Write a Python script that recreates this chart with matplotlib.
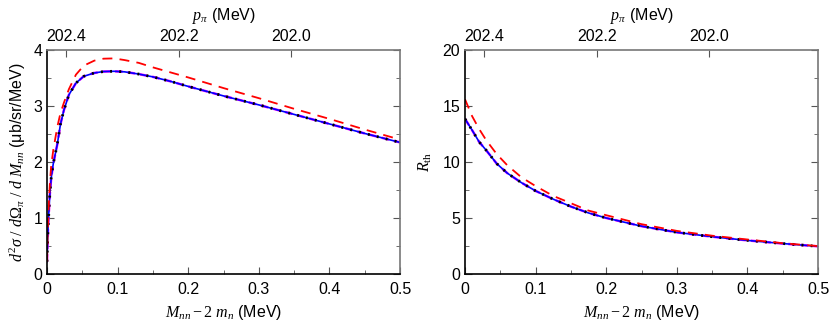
import numpy as np
import matplotlib
matplotlib.use("Agg")
import matplotlib.pyplot as plt
from matplotlib.ticker import MultipleLocator, FixedLocator, NullLocator

plt.rcParams['font.family'] = ['Liberation Sans', 'DejaVu Sans']
plt.rcParams['font.size'] = 11
plt.rcParams['mathtext.fontset'] = 'custom'
plt.rcParams['mathtext.it'] = 'Liberation Serif:italic'
plt.rcParams['mathtext.rm'] = 'Liberation Serif'
plt.rcParams['mathtext.cal'] = 'Liberation Serif:italic'

# M_nn - 2 m_n (MeV), left panel grid
m_left = [0, 0.001, 0.002, 0.004, 0.006, 0.009, 0.0145, 0.019, 0.024, 0.031,
          0.041, 0.052, 0.067, 0.08, 0.095, 0.11, 0.13, 0.15, 0.175, 0.2,
          0.25, 0.3, 0.35, 0.4, 0.45, 0.5]
# cross section, full model (blue / magenta / black coincide)
xs_full = [0.22, 0.65, 0.96, 1.42, 1.72, 1.98, 2.31, 2.67, 2.93, 3.2,
           3.41, 3.53, 3.59, 3.615, 3.62, 3.61, 3.57, 3.52, 3.44, 3.35,
           3.18, 3.02, 2.85, 2.68, 2.51, 2.35]
# cross section, red dashed
xs_red = [0.22, 0.75, 1.1, 1.6, 1.95, 2.22, 2.62, 2.87, 3.06, 3.3,
          3.56, 3.72, 3.81, 3.845, 3.85, 3.82, 3.77, 3.69, 3.6, 3.51,
          3.32, 3.14, 2.95, 2.77, 2.58, 2.40]

# right panel grid
m_right = [0, 0.01, 0.02, 0.03, 0.045, 0.06, 0.08, 0.1, 0.125, 0.15,
           0.175, 0.2, 0.25, 0.3, 0.35, 0.4, 0.45, 0.5]
r_full = [13.85, 12.85, 11.8, 11.05, 9.85, 9.0, 8.15, 7.42, 6.68, 6.02,
          5.45, 5.0, 4.27, 3.72, 3.33, 3.0, 2.72, 2.47]
r_red = [15.6, 14.1, 12.95, 11.95, 10.7, 9.7, 8.63, 7.85, 6.97, 6.32,
         5.66, 5.25, 4.45, 3.85, 3.42, 3.08, 2.75, 2.49]

# pion momentum on top axis, approx. linear in M_nn
P0 = 202.4344
DP_DM = 1.2555
p_ticks = [202.4, 202.2, 202.0]


def m2p(m):
    return P0 - DP_DM * np.asarray(m)


def p2m(p):
    return (P0 - np.asarray(p)) / DP_DM


fig = plt.figure(figsize=(8.3, 3.24), dpi=100)
ax1 = fig.add_axes([47 / 830, 50 / 324, 353 / 830, 224 / 324])
ax2 = fig.add_axes([465 / 830, 50 / 324, 353 / 830, 224 / 324])


def draw(ax, m, full, red):
    ax.plot(m, full, color='magenta', lw=1.8, ls=(0, (3, 2)))
    ax.plot(m, full, color='blue', lw=1.2)
    ax.plot(m, full, color='black', lw=2.0, ls=(0, (0.7, 2.6)))
    ax.plot(m, red, color='red', lw=1.3, ls=(0, (5.5, 4)))


draw(ax1, m_left, xs_full, xs_red)
draw(ax2, m_right, r_full, r_red)

for ax, ytop, ymaj in [(ax1, 4, 1), (ax2, 20, 5)]:
    ax.set_xlim(0, 0.5)
    ax.set_ylim(0, ytop)
    ax.xaxis.set_major_locator(MultipleLocator(0.1))
    ax.xaxis.set_minor_locator(MultipleLocator(0.05))
    ax.yaxis.set_major_locator(MultipleLocator(ymaj))
    ax.yaxis.set_minor_locator(MultipleLocator(ymaj / 2))
    ax.xaxis.set_major_formatter(plt.FuncFormatter(lambda v, p: f'{v:g}'))
    ax.tick_params(which='both', direction='in', right=True, top=False,
                   color='#555555', labelsize=11.5)
    ax.tick_params(which='major', length=5)
    ax.tick_params(which='minor', length=3)
    ax.tick_params(axis='x', pad=6)
    for s in ['left', 'bottom']:
        ax.spines[s].set_color('black')
        ax.spines[s].set_linewidth(1.2)
    for s in ['right', 'top']:
        ax.spines[s].set_color('#777777')
        ax.spines[s].set_linewidth(1.2)
    ax.set_xlabel(r'$M_{nn} - 2\ m_n$ (MeV)', fontsize=11.5)

    sec = ax.secondary_xaxis('top', functions=(m2p, p2m))
    sec.xaxis.set_major_locator(FixedLocator(p_ticks))
    sec.xaxis.set_minor_locator(NullLocator())
    sec.xaxis.set_major_formatter(plt.FuncFormatter(lambda v, p: f'{v:.1f}'))
    sec.tick_params(direction='in', length=5, color='#555555', pad=4,
                    labelsize=11.5)
    sec.spines['top'].set_visible(False)
    sec.set_xlabel(r'$p_\pi$ (MeV)', labelpad=7, fontsize=11.5)

ax1.set_ylabel(r'$d^2\sigma\ /\ d\Omega_\pi\ /\ d\ M_{nn}$ (μb/sr/MeV)',
               labelpad=4, fontsize=11.5)
ax2.set_ylabel(r'$R_{\rm th}$', labelpad=6, fontsize=11.5)

fig.savefig('out.png', dpi=100)
